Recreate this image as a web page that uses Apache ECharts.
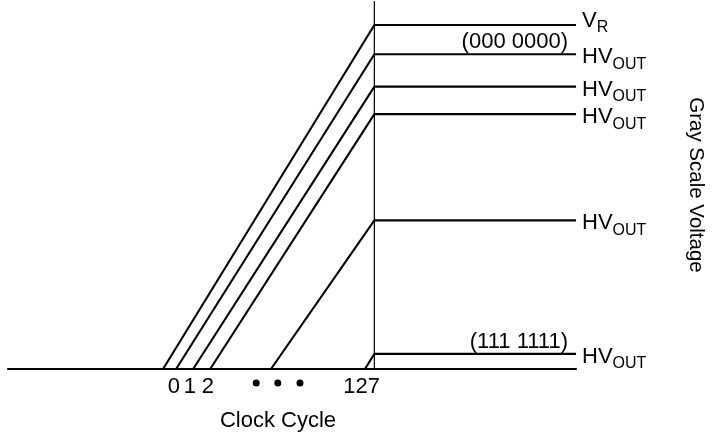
<!DOCTYPE html>
<html><head><meta charset="utf-8">
<script src="https://cdn.jsdelivr.net/npm/echarts@6/dist/echarts.min.js"></script>
<style>html,body{margin:0;padding:0;background:#fff}#c{width:718px;height:444px}</style>
</head><body><div id="c"></div>
<script>
// ---- data (schematic units: x = clock time, 0..100; y = voltage, V_R = 100) ----
const rampStarts   = [27.3, 29.6, 32.6, 35.6, 46.3, 62.85];
const outputLevels = [100, 91.5, 82.1, 74.1, 43.2, 4.4];
const levelMain    = ['V', 'HV', 'HV', 'HV', 'HV', 'HV'];
const levelSub     = ['R', 'OUT', 'OUT', 'OUT', 'OUT', 'OUT'];
const codeLevels   = [91.5, 4.4];
const codeTexts    = ['(000 0000)', '(111 1111)'];
const tickValues   = [29.2, 32.0, 35.2, 62.25];
const tickLabels   = ['0', '1', '2', '127'];
const dotValues    = [43.7, 47.5, 51.4];
const dotLevel     = -4.1;
const lastCycle    = 64.5;   // clock cycle 127
const lineEnd      = 100;
const yTop         = 107;

const FONT = "'Liberation Sans', Arial, Helvetica, sans-serif";
const chart = echarts.init(document.getElementById('c'), null, {renderer: 'canvas'});

const richStyle = {
  m: {fontSize: 22, lineHeight: 22, color: '#000', fontFamily: FONT, verticalAlign: 'top'},
  s: {fontSize: 16, lineHeight: 16, color: '#000', fontFamily: FONT, verticalAlign: 'top', padding: [10, 0, 0, 0]}
};

const series = rampStarts.map((s, i) => ({
  type: 'line',
  data: [[s, 0], [lastCycle, outputLevels[i]], [lineEnd, outputLevels[i]]],
  symbol: 'none',
  silent: true,
  lineStyle: {color: '#000', width: 2.1},
  endLabel: {
    show: true,
    formatter: '{m|' + levelMain[i] + '}{s|' + levelSub[i] + '}',
    distance: 6,
    offset: i === 0 ? [0, -4] : [0, 3],
    rich: richStyle
  }
}));

series.push({
  type: 'line',
  data: [[lastCycle, 0], [lastCycle, yTop]],
  symbol: 'none', silent: true,
  lineStyle: {color: '#000', width: 1.2}
});

series.push({
  type: 'scatter',
  data: dotValues.map(x => [x, dotLevel]),
  symbol: 'circle', symbolSize: 7, clip: false, silent: true,
  itemStyle: {color: '#000', opacity: 1}
});

series.push({
  type: 'scatter',
  data: codeLevels.map(l => [lineEnd, l]),
  symbolSize: 0, clip: false, silent: true,
  itemStyle: {color: '#000', opacity: 1},
  label: {
    show: true, position: 'left', distance: 8, offset: [0, -12],
    formatter: p => codeTexts[p.dataIndex],
    fontSize: 22, color: '#000', opacity: 1, textBorderWidth: 0, fontFamily: FONT
  }
});

chart.setOption({
  animation: false,
  backgroundColor: '#fff',
  grid: {left: 8, right: 142, top: 1, bottom: 75, containLabel: false, outerBoundsMode: 'none'},
  xAxis: {
    type: 'value', min: 0, max: 100,
    axisLine: {show: true, onZero: false, lineStyle: {color: '#000', width: 2.1}},
    axisTick: {show: false},
    splitLine: {show: false},
    axisLabel: {
      customValues: tickValues,
      formatter: v => {
        let best = 0;
        tickValues.forEach((t, i) => { if (Math.abs(t - v) < Math.abs(tickValues[best] - v)) best = i; });
        return tickLabels[best];
      },
      fontSize: 22, color: '#000', margin: 7, fontFamily: FONT
    },
    name: 'Clock Cycle', nameLocation: 'middle', nameGap: 41,
    nameTextStyle: {fontSize: 22, color: '#000', fontFamily: FONT, padding: [0, 28, 0, 0]}
  },
  yAxis: {
    type: 'value', position: 'right', min: 0, max: yTop,
    axisLine: {show: false}, axisTick: {show: false}, axisLabel: {show: false}, splitLine: {show: false},
    name: 'Gray Scale Voltage', nameLocation: 'middle', nameRotate: -90, nameGap: 109,
    nameTextStyle: {fontSize: 20.5, color: '#000', fontFamily: FONT}
  },
  series: series
});
</script></body></html>
